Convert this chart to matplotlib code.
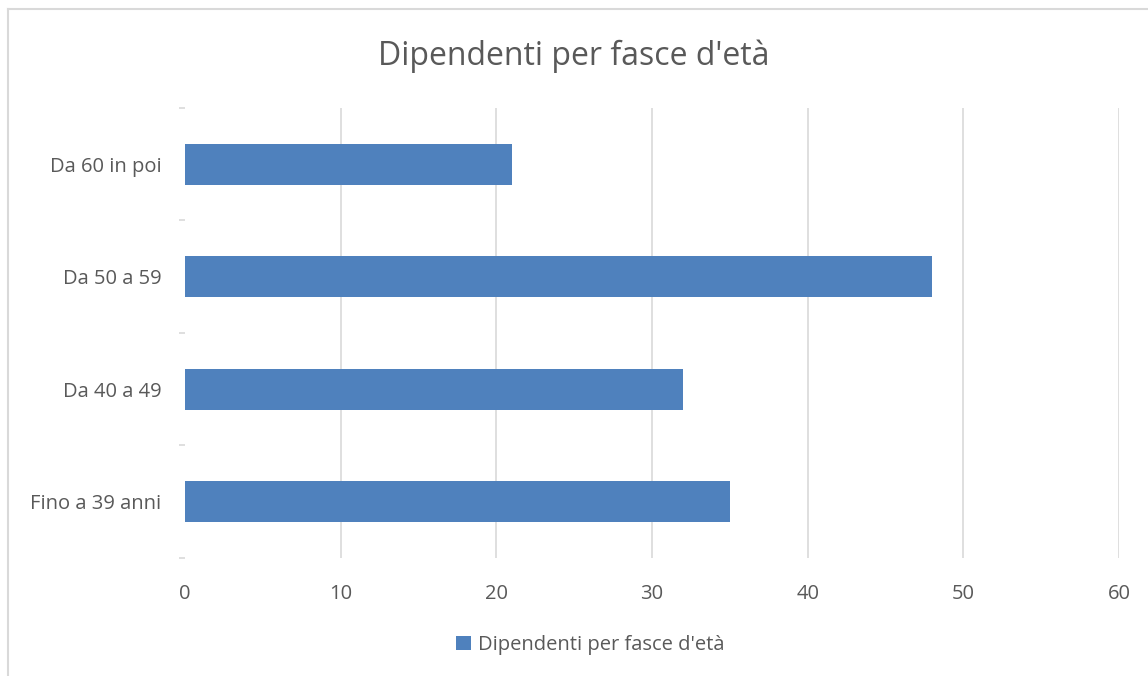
import numpy as np
import matplotlib.pyplot as plt
from matplotlib.lines import Line2D
from matplotlib.patches import Patch

# Fasce d'età e numero di dipendenti (dal basso verso l'alto)
fasce = ['Fino a 39 anni', 'Da 40 a 49', 'Da 50 a 59', 'Da 60 in poi']
dipendenti = [35, 32, 48, 21]
x_ticks = [0, 10, 20, 30, 40, 50, 60]
titolo = "Dipendenti per fasce d'età"

colore_barre = '#4F81BD'
grigio_testo = '#595959'
grigio_griglia = '#D9D9D9'

plt.rcParams['font.family'] = ['Open Sans', 'DejaVu Sans']

fig = plt.figure(figsize=(11.48, 6.76), dpi=100)
ax = fig.add_axes([0.1612, 0.1746, 0.8136, 0.6657])

y = np.arange(len(fasce))
ax.barh(y, dipendenti, height=0.365, color=colore_barre, zorder=3)

ax.set_xlim(0, 60)
ax.set_ylim(-0.5, len(fasce) - 0.5)
ax.set_xticks(x_ticks)
ax.set_xticklabels([str(t) for t in x_ticks])
ax.set_yticks(y)
ax.set_yticklabels(fasce)
ax.set_yticks(np.arange(len(fasce) + 1) - 0.5, minor=True)

ax.grid(axis='x', color=grigio_griglia, linewidth=1.2, zorder=0)
ax.xaxis.get_gridlines()[0].set_visible(False)
for s in ax.spines.values():
    s.set_visible(False)

ax.tick_params(axis='x', length=0, pad=19, labelsize=14.5, labelcolor=grigio_testo)
ax.tick_params(axis='y', which='major', length=0, pad=17, labelsize=14.5, labelcolor=grigio_testo)
ax.tick_params(axis='y', which='minor', length=4.5, width=1.2, color=grigio_griglia)

fig.text(0.5, 0.917, titolo, ha='center', va='center', fontsize=23, color=grigio_testo)

handles = [Patch(facecolor=colore_barre, label=titolo)]
fig.legend(handles=handles, loc='center', bbox_to_anchor=(0.514, 0.046), frameon=False,
           fontsize=14.5, labelcolor=grigio_testo, handlelength=0.75, handleheight=0.75,
           handletextpad=0.35)

# bordo del riquadro del grafico
fig.add_artist(Line2D([8 / 1148, 8 / 1148], [0, 1 - 9 / 676], color=grigio_griglia, linewidth=1.5))
fig.add_artist(Line2D([8 / 1148, 1], [1 - 9 / 676, 1 - 9 / 676], color=grigio_griglia, linewidth=1.5))

fig.savefig('out.png', dpi=100)
